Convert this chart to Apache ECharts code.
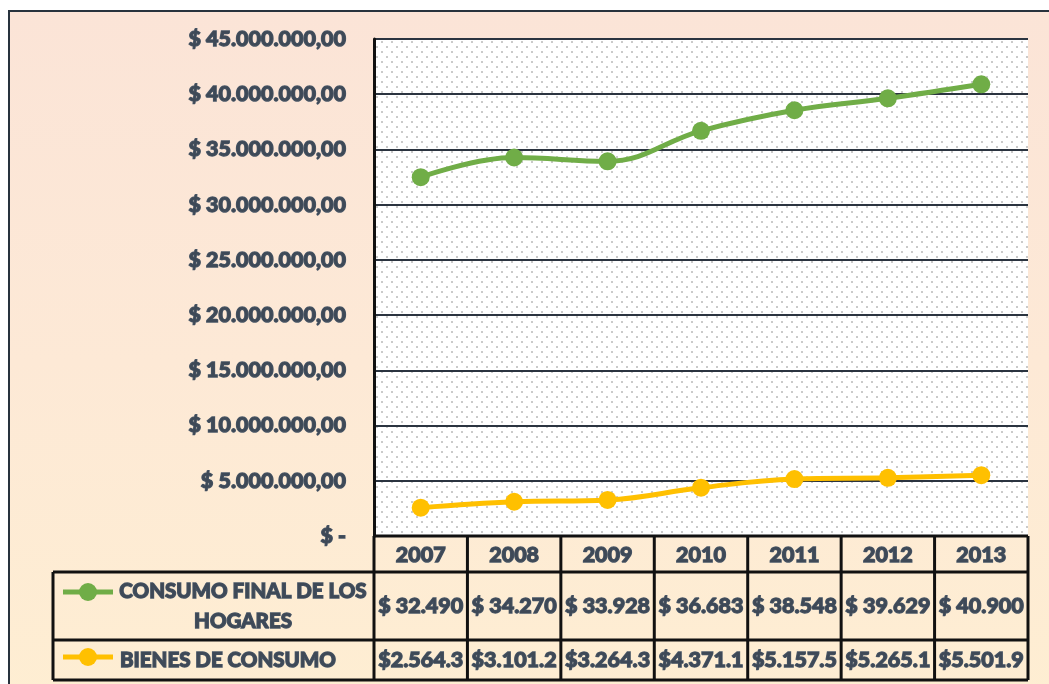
<!DOCTYPE html>
<html>
<head>
<meta charset="utf-8">
<script src="https://cdn.jsdelivr.net/npm/echarts@6/dist/echarts.min.js"></script>
<style>
  html, body { margin: 0; padding: 0; background: #fff; }
  .frame {
    position: absolute; left: 8px; top: 10px; width: 1100px; height: 700px;
    border-left: 2px solid #28323d; border-top: 2px solid #28323d;
    background: linear-gradient(to bottom, #fbe4d7 0%, #fde9d6 50%, #feeed2 100%);
  }
  #chart { position: absolute; left: 0; top: 0; width: 1049px; height: 684px; }
</style>
</head>
<body>
<div class="frame"></div>
<div id="chart"></div>
<script>
// data
var years = ['2007', '2008', '2009', '2010', '2011', '2012', '2013'];
var consumoHogares = [32490, 34270, 33928, 36683, 38548, 39629, 40900];   // thousands
var bienesConsumo = [2564.3, 3101.2, 3264.3, 4371.1, 5157.5, 5265.1, 5501.9]; // thousands
var serieNames = ['CONSUMO FINAL DE LOS\nHOGARES', 'BIENES DE CONSUMO'];
var serieColors = ['#70ad47', '#ffc000'];

var textColor = '#3e4957';
var strokeColor = '#4a5868';
var font = '900 21.5px Lato';
var legendFont = '900 20.5px Lato';

function dots(n) {
  return String(n).replace(/\B(?=(\d{3})+(?!\d))/g, '.');
}
function fmtAxis(v) {
  if (v === 0) return '$ -';
  return '$ ' + dots(v) + ',00';
}
function fmtHogar(v) { return '$ ' + dots(v); }
function fmtBienes(v) {
  var p = v.toFixed(1).split('.');
  return '$' + dots(p[0]) + '.' + p[1];
}

// dotted plot background
var pat = document.createElement('canvas');
pat.width = 10; pat.height = 10;
var pc = pat.getContext('2d');
pc.fillStyle = '#ffffff';
pc.fillRect(0, 0, 10, 10);
pc.fillStyle = '#cacaca';
pc.fillRect(1, 1, 2, 2);
pc.fillRect(6, 6, 2, 2);

var gridLeft = 374, gridRight = 21, gridTop = 39, gridBottom = 148;

var chart = echarts.init(document.getElementById('chart'));
var option = {
  animation: false,
  grid: {
    left: gridLeft, right: gridRight, top: gridTop, bottom: gridBottom,
    show: true,
    backgroundColor: { image: pat, repeat: 'repeat' },
    borderWidth: 0
  },
  xAxis: {
    type: 'category',
    data: years,
    boundaryGap: true,
    axisLine: { show: false },
    axisTick: { show: false },
    axisLabel: { show: false }
  },
  yAxis: {
    type: 'value',
    min: 0, max: 45000000, interval: 5000000,
    axisLine: { show: true, lineStyle: { color: '#111', width: 3 } },
    axisTick: { show: false },
    splitLine: { lineStyle: { color: '#2b3440', width: 2 } },
    axisLabel: {
      formatter: fmtAxis,
      margin: 28,
      color: textColor,
      fontFamily: 'Lato',
      fontWeight: 900,
      fontSize: 21.5,
      textBorderColor: strokeColor,
      textBorderWidth: 1.3
    }
  },
  series: [
    {
      name: 'CONSUMO FINAL DE LOS HOGARES',
      type: 'line',
      smooth: 0.4,
      data: consumoHogares.map(function (v) { return v * 1000; }),
      symbol: 'circle', symbolSize: 18,
      lineStyle: { color: serieColors[0], width: 5 },
      itemStyle: { color: serieColors[0] }
    },
    {
      name: 'BIENES DE CONSUMO',
      type: 'line',
      smooth: 0.4,
      data: bienesConsumo.map(function (v) { return v * 1000; }),
      symbol: 'circle', symbolSize: 18,
      lineStyle: { color: serieColors[1], width: 5 },
      itemStyle: { color: serieColors[1] }
    }
  ]
};
chart.setOption(option);

// data table under the plot, aligned to the category axis
var c0 = chart.convertToPixel({ xAxisIndex: 0 }, 0);
var step = chart.convertToPixel({ xAxisIndex: 0 }, 1) - c0;
var tableLeft = 53;
var colLeft = c0 - step / 2;
var colRight = colLeft + step * years.length;
var rowY = [536, 572, 640, 680];
var lw = 3, lc = '#111';
var els = [];

function line(x1, y1, x2, y2) {
  els.push({ type: 'line', shape: { x1: x1, y1: y1, x2: x2, y2: y2 },
    style: { stroke: lc, lineWidth: lw }, z: 100 });
}
function text(t, x, y, align, f) {
  els.push({ type: 'text', z: 101,
    style: { text: t, x: x, y: y, font: f || font, fill: textColor,
      stroke: strokeColor, lineWidth: 1.3,
      align: align || 'center', verticalAlign: 'middle', lineHeight: 30 } });
}

// horizontal borders
line(colLeft, rowY[0], colRight, rowY[0]);
line(tableLeft, rowY[1], colRight, rowY[1]);
line(tableLeft, rowY[2], colRight, rowY[2]);
line(tableLeft, rowY[3], colRight, rowY[3]);
// vertical borders
line(tableLeft, rowY[1], tableLeft, rowY[3]);
for (var i = 0; i <= years.length; i++) {
  var x = colLeft + i * step;
  line(x, rowY[0], x, rowY[3]);
}
// cells
years.forEach(function (y, i) {
  var cx = c0 + i * step;
  text(y, cx, (rowY[0] + rowY[1]) / 2 + 1);
  text(fmtHogar(consumoHogares[i]), cx, (rowY[1] + rowY[2]) / 2);
  text(fmtBienes(bienesConsumo[i]), cx, (rowY[2] + rowY[3]) / 2);
});
// legend keys
[[592, 0], [657, 1]].forEach(function (k) {
  var ky = k[0], col = serieColors[k[1]];
  els.push({ type: 'line', z: 101, shape: { x1: 63, y1: ky, x2: 113, y2: ky },
    style: { stroke: col, lineWidth: 5 } });
  els.push({ type: 'circle', z: 102, shape: { cx: 88, cy: ky, r: 9 }, style: { fill: col } });
});
text(serieNames[0], 243, (rowY[1] + rowY[2]) / 2, 'center', legendFont);
text(serieNames[1], 120, (rowY[2] + rowY[3]) / 2, 'left', legendFont);

chart.setOption({ graphic: { elements: els } });
</script>
</body>
</html>
